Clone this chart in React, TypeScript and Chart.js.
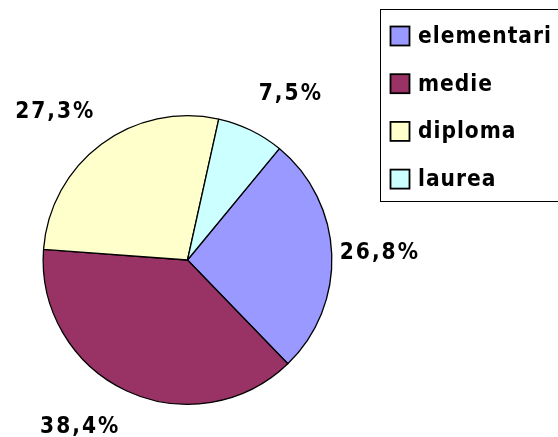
import React, { useEffect, useRef } from "react";
import { Chart, registerables } from "chart.js";

Chart.register(...registerables);

const categories: string[] = ["elementari", "medie", "diploma", "laurea"];
const values: number[] = [26.8, 38.4, 27.3, 7.5];
const valueLabels: string[] = ["26,8%", "38,4%", "27,3%", "7,5%"];
const colors: string[] = ["#9999FF", "#993366", "#FFFFCC", "#CCFFFF"];

const FONT = "'DejaVu Sans Condensed', 'DejaVu Sans', sans-serif";

const outsideLabels = {
  id: "outsideLabels",
  afterDatasetsDraw(chart: any) {
    const ctx = chart.ctx as CanvasRenderingContext2D;
    const meta = chart.getDatasetMeta(0);
    ctx.save();
    ctx.font = `bold 22.5px ${FONT}`;
    (ctx as any).letterSpacing = "2px";
    ctx.fillStyle = "#000";
    ctx.textAlign = "left";
    ctx.textBaseline = "middle";
    meta.data.forEach((arc: any, i: number) => {
      const p = arc.getProps(["x", "y", "startAngle", "endAngle", "outerRadius"], true);
      const mid = (p.startAngle + p.endAngle) / 2;
      const dx = Math.cos(mid);
      const dy = Math.sin(mid);
      const ex = p.x + p.outerRadius * dx;
      const ey = p.y + p.outerRadius * dy;
      const text = valueLabels[i];
      const w = ctx.measureText(text).width - 2;
      const cx = ex + Math.sign(dx) * (w / 2 + 8);
      const cy = ey + dy * 40;
      ctx.fillText(text, cx - w / 2, cy);
    });
    ctx.restore();
  },
};

const boxLegend = {
  id: "boxLegend",
  afterDraw(chart: any) {
    const ctx = chart.ctx as CanvasRenderingContext2D;
    const ds = chart.data.datasets[0];
    const left = 380.5;
    const top = 9.5;
    const bottom = 201.5;
    ctx.save();
    ctx.strokeStyle = "#000";
    ctx.lineWidth = 1;
    ctx.strokeRect(left, top, chart.width + 10 - left, bottom - top);
    const firstY = 36;
    const step = 47.7;
    const sq = 19;
    ctx.font = `bold 22.5px ${FONT}`;
    (ctx as any).letterSpacing = "1px";
    ctx.textAlign = "left";
    ctx.textBaseline = "alphabetic";
    (chart.data.labels as string[]).forEach((lab: string, i: number) => {
      const cy = firstY + i * step;
      const sx = 390.5;
      ctx.fillStyle = ds.backgroundColor[i];
      ctx.fillRect(sx, cy - sq / 2, sq, sq);
      ctx.lineWidth = 1.8;
      ctx.strokeStyle = "#000";
      ctx.strokeRect(sx, cy - sq / 2, sq, sq);
      ctx.fillStyle = "#000";
      ctx.fillText(lab, 418, cy + 7);
    });
    ctx.restore();
  },
};

export default function App() {
  const ref = useRef<HTMLCanvasElement | null>(null);
  useEffect(() => {
    if (!ref.current) return;
    const chart = new Chart(ref.current, {
      type: "pie",
      data: {
        labels: categories,
        datasets: [
          {
            data: values,
            backgroundColor: colors,
            borderColor: "#000",
            borderWidth: 1.3,
          },
        ],
      },
      options: {
        responsive: false,
        animation: false,
        rotation: 39.5,
        layout: { padding: { left: 42, top: 115, right: 225, bottom: 32 } },
        plugins: {
          legend: { display: false },
          tooltip: { enabled: false },
        },
      },
      plugins: [outsideLabels, boxLegend],
    });
    return () => chart.destroy();
  }, []);
  return (
    <div style={{ position: "absolute", left: 0, top: 0, width: 558, height: 437, background: "#fff" }}>
      <canvas ref={ref} width={558} height={437} />
    </div>
  );
}
